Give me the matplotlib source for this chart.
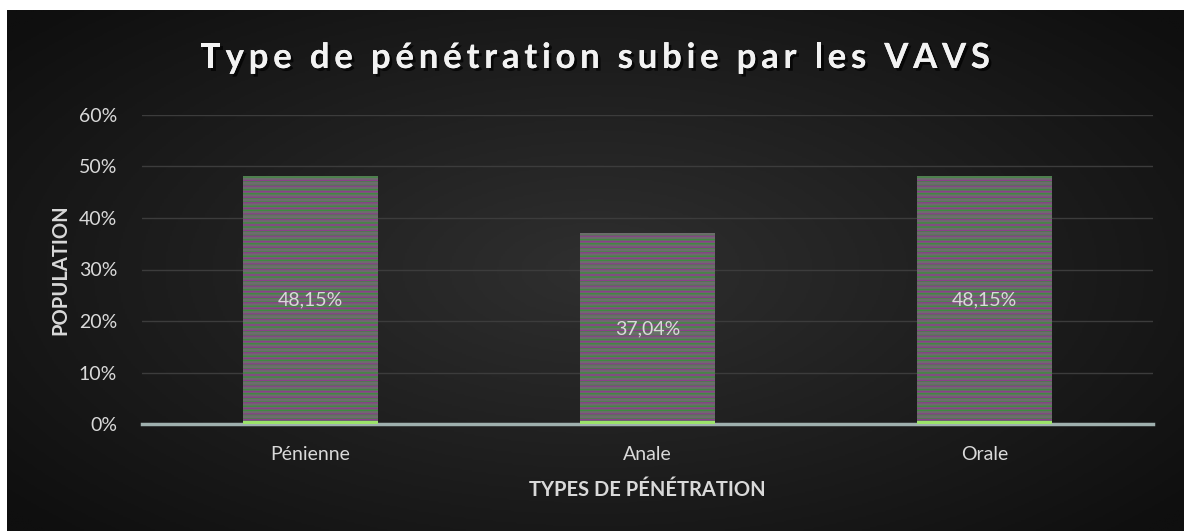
import numpy as np
import matplotlib
matplotlib.use("Agg")
import matplotlib.pyplot as plt
import matplotlib.patheffects as pe
from matplotlib.ticker import MultipleLocator, FuncFormatter

categories = ["Pénienne", "Anale", "Orale"]
values = [0.4815, 0.3704, 0.4815]
value_labels = ["48,15%", "37,04%", "48,15%"]
title = "Type de pénétration subie par les VAVS"

plt.rcParams['font.family'] = ['Lato', 'DejaVu Sans']
plt.rcParams['hatch.linewidth'] = 1.0

W, H = 1184, 531
fig = plt.figure(figsize=(W / 100, H / 100), dpi=100, facecolor="white")

# dark radial background
bg = fig.add_axes([7 / W, 0, (W - 7) / W, (H - 10) / H])
yy, xx = np.mgrid[-1:1:300j, -1:1:600j]
r = np.sqrt((xx / 1.0) ** 2 + (yy / 1.1) ** 2)
grad = np.clip(1 - r / 1.3, 0, 1)
bg.imshow(grad, cmap=matplotlib.colors.LinearSegmentedColormap.from_list(
    "bgc", ["#0f0f0f", "#2f2f2f"]), aspect="auto", extent=[0, 1, 0, 1])
bg.axis("off")

ax = fig.add_axes([142 / W, (H - 424) / H, (1153 - 142) / W, (424 - 115) / H])
ax.set_facecolor("none")
x = np.arange(len(categories))
width = 0.40

ax.bar(x, values, width, color="#6e6b6e", zorder=2, linewidth=0)
ax.bar(x, values, width, color="none", hatch="----", edgecolor="#3f8a3f",
       linewidth=0, zorder=3)
ax.bar(x, values, width, color="none", hatch="---", edgecolor="#8a3f8a",
       linewidth=0, zorder=3)
# light green strip at bar base
ax.bar(x, [0.006] * len(x), width, color="#9be36a", linewidth=0, zorder=4)

for xi, v, lab in zip(x, values, value_labels):
    ax.text(xi, v / 2, lab, ha="center", va="center", color="#d9d9d9",
            fontsize=14, zorder=5)

ax.set_xlim(-0.5, len(categories) - 0.5)
ax.set_ylim(0, 0.6)
ax.yaxis.set_major_locator(MultipleLocator(0.1))
ax.yaxis.set_major_formatter(FuncFormatter(lambda v, p: f"{v * 100:.0f}%"))
ax.grid(axis="y", color="#3c3c3c", linewidth=1, zorder=0)
ax.set_axisbelow(True)
for s in ["top", "right", "left"]:
    ax.spines[s].set_visible(False)
ax.spines["bottom"].set_color("#9fb0ae")
ax.spines["bottom"].set_linewidth(2.5)
ax.spines["bottom"].set_zorder(3.5)
ax.tick_params(axis="both", length=0, colors="#d9d9d9", labelsize=14)
ax.tick_params(axis="y", pad=18)
ax.tick_params(axis="x", pad=16)
ax.set_xticks(x)
ax.set_xticklabels(categories)

ax.set_xlabel("TYPES DE PÉNÉTRATION", color="#d9d9d9", fontsize=14.5,
              fontweight="bold", labelpad=12)
ax.set_ylabel("POPULATION", color="#d9d9d9", fontsize=14.5,
              fontweight="bold", labelpad=6)

# title with wide letter spacing, placed char by char
renderer = fig.canvas.get_renderer()
tprops = dict(color="#f2f2f2", fontsize=25, fontweight="bold", va="center",
              ha="left",
              path_effects=[pe.withSimplePatchShadow(offset=(2, -2),
                                                     shadow_rgbFace="black",
                                                     alpha=0.7),
                            pe.Normal()])


def text_w(s):
    t = fig.text(0, 0, s, **tprops)
    w = t.get_window_extent(renderer).width
    t.remove()
    return w


ref_w = text_w("x")
offsets = [text_w(title[:i] + "x") - ref_w if i > 0 else 0.0
           for i in range(len(title))]
natural = text_w(title)
target_w = 790
track = (target_w - natural) / (len(title) - 1)
x0 = 595 - target_w / 2
for i, ch in enumerate(title):
    if ch == " ":
        continue
    fig.text((x0 + offsets[i] + i * track) / W, 1 - 58 / H, ch, **tprops)

fig.savefig("out.png", dpi=100, facecolor="white")
